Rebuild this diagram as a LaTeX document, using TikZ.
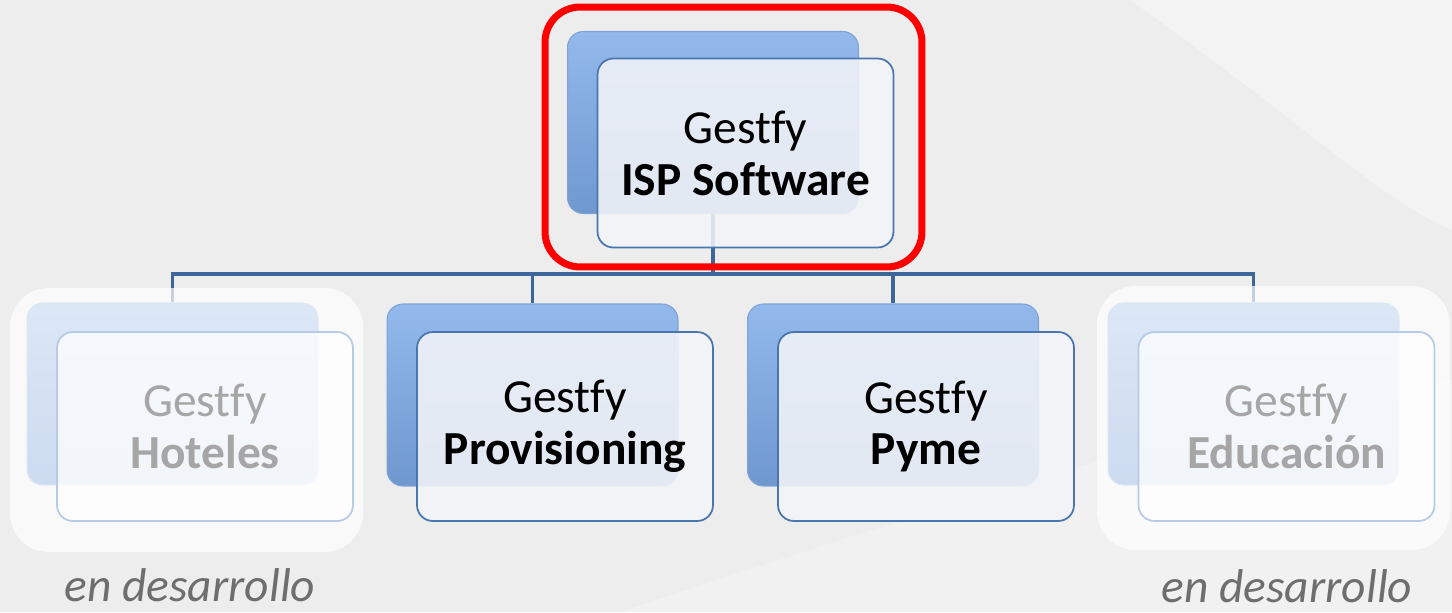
\documentclass[tikz,border=0pt]{standalone}
\usepackage{fontspec}
\setmainfont{Carlito}[Ligatures=NoCommon]
\pgfdeclarelayer{bg}
\pgfdeclarelayer{lines}
\pgfsetlayers{bg,lines,main}

\definecolor{pageGray}{HTML}{EDEDEE}
\definecolor{linkBlue}{HTML}{3D6699}
\definecolor{backTop}{HTML}{93B9EC}
\definecolor{backBot}{HTML}{6F98CF}
\definecolor{backEdge}{HTML}{7EA3D6}
\definecolor{frontEdge}{HTML}{4A76B0}
\definecolor{frontFill}{HTML}{F3F4F8}
\definecolor{fadeTop}{HTML}{DCE7F6}
\definecolor{fadeBot}{HTML}{CCDBEF}
\definecolor{fadeEdge}{HTML}{B6CBE6}
\definecolor{fadeText}{HTML}{A6A6A6}
\definecolor{noteGray}{HTML}{6E6E6E}

\tikzset{
  backbox/.style={rounded corners=9pt, minimum width=5.82cm, minimum height=3.64cm,
    top color=backTop, bottom color=backBot, draw=backEdge, line width=0.6pt},
  frontbox/.style={rounded corners=9pt, minimum width=5.92cm, minimum height=3.78cm,
    draw=frontEdge, line width=1pt, fill=frontFill, fill opacity=0.88, text opacity=1,
    align=center, font=\fontsize{27}{29.5}\selectfont},
  fadeback/.style={backbox, top color=fadeTop, bottom color=fadeBot, draw=fadeTop},
  fadefront/.style={frontbox, draw=fadeEdge, fill=white, fill opacity=0.75, text=fadeText},
  panel/.style={rounded corners=22pt, minimum width=7.06cm, minimum height=5.28cm,
    fill=white, fill opacity=0.7},
  redframe/.style={rounded corners=20pt, minimum width=7.54cm, minimum height=5.2cm,
    draw=red, line width=4pt},
  note/.style={font=\fontsize{27}{29.5}\selectfont\itshape, text=noteGray,
    anchor=base, inner sep=0pt},
  link/.style={draw=linkBlue, line width=2.2pt}
}

\begin{document}
\begin{tikzpicture}[x=0.02cm, y=-0.02cm]
  % page and margins
  \begin{pgfonlayer}{bg}
    \fill[pageGray] (0,0) rectangle (1452,612);
    \fill[white, opacity=0.35] (1130,0) .. controls (1300,120) and (1380,200) .. (1452,230)
      -- (1452,0) -- cycle;
    \fill[white, opacity=0.25] (620,612) .. controls (900,520) and (1200,420) .. (1452,380)
      -- (1452,612) -- cycle;
  \end{pgfonlayer}
  \useasboundingbox (0,0) rectangle (1452,612);

  % faded panels behind the products in development
  \node[panel] (hotpanel) at (186.5,420) {};
  \node[panel] (edupanel) at (1273.5,418) {};

  % top product
  \node[backbox] (ispback) at (713,122.5) {};
  \node[frontbox] (isp) at (745.5,153) {Gestfy\\\textbf{ISP Software}};
  \node[redframe] (sel) at (733.5,137) {};

  % children
  \node[fadeback] (hotback) at (172.5,394) {};
  \node[fadefront] (hot) at (205,426.5) {Gestfy\\\textbf{Hoteles}};
  \node[backbox] (provback) at (532.5,395) {};
  \node[frontbox] (prov) at (565,426.5) {Gestfy\\\textbf{Provisioning}};
  \node[backbox] (pymeback) at (893,395) {};
  \node[frontbox] (pyme) at (926,426.5) {Gestfy\\\textbf{Pyme}};
  \node[fadeback] (eduback) at (1253.5,394) {};
  \node[fadefront] (edu) at (1286.5,426.5) {Gestfy\\\textbf{Educación}};

  % notes
  \node[note] (hotnote) at (190,601) {en desarrollo};
  \node[note] (edunote) at (1287,602) {en desarrollo};

  % connectors
  \begin{pgfonlayer}{lines}
    \coordinate (bus) at (713,274);
    \draw[link] (ispback) -- (bus);
    \foreach \n in {hotback,provback,pymeback,eduback}
      \draw[link] (bus) -| (\n.north);
  \end{pgfonlayer}
\end{tikzpicture}
\end{document}
